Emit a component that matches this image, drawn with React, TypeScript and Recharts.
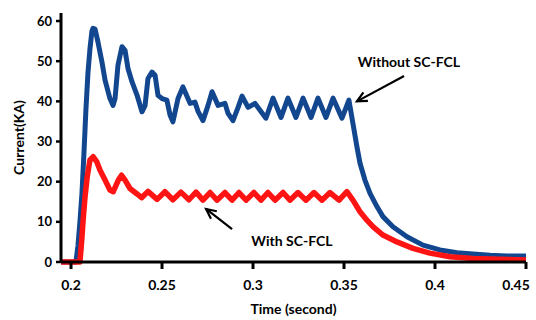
import { LineChart, Line, XAxis, YAxis, ReferenceLine, ReferenceDot } from 'recharts';

// time (s) / current (kA)
const withoutFclTime = [
    0.1945, 0.2027, 0.2038, 0.2049, 0.206, 0.2071, 0.2082, 0.2093, 0.2104, 0.2115,
    0.2121, 0.2132, 0.2148, 0.217, 0.2187, 0.2214, 0.2231, 0.2242, 0.2258, 0.228,
    0.2297, 0.2313, 0.2335, 0.2363, 0.239, 0.2407, 0.2423, 0.2445, 0.2462, 0.2478,
    0.25, 0.2527, 0.2544, 0.256, 0.2588, 0.2615, 0.2654, 0.2681, 0.2698, 0.2725,
    0.2753, 0.2775, 0.2808, 0.2846, 0.2863, 0.289, 0.2918, 0.294, 0.2973, 0.3011,
    0.3071, 0.311, 0.3154, 0.3192, 0.3236, 0.3275, 0.3319, 0.3357, 0.3401, 0.344,
    0.3489, 0.3527, 0.3549, 0.3571, 0.3588, 0.3615, 0.3643, 0.3681, 0.3714, 0.3769,
    0.3846, 0.3934, 0.4027, 0.4121, 0.4209, 0.4302, 0.4394, 0.45,
];
const withoutFclCurrent = [
    0, 0, 4, 10, 17, 27, 38, 47, 53, 57.5,
    58.2, 58, 54.8, 49.8, 45.3, 40.7, 39, 40.7, 49, 53.6,
    52.7, 48.2, 44.9, 41.5, 37.4, 39, 45.7, 47.3, 46.5, 41.5,
    40.7, 40.3, 36.6, 34.9, 40.7, 43.6, 39.5, 39.8, 37.5, 35.2,
    39, 42.4, 39, 39.5, 37, 35.2, 38.5, 41.3, 38.5, 39.5,
    35.8, 40.8, 36, 40.8, 36, 40.8, 36, 40.8, 36, 40.8,
    35.8, 40.3, 34.5, 28.7, 24.6, 20.4, 17.1, 13.8, 11.3, 8.8,
    6.3, 4.2, 3, 2.3, 2, 1.7, 1.5, 1.5,
];

const withFclTime = [
    0.1945, 0.2049, 0.2059, 0.2068, 0.2077, 0.2089, 0.2104, 0.2122, 0.2141, 0.2159,
    0.2187, 0.2214, 0.2232, 0.226, 0.2278, 0.2297, 0.2324, 0.2361, 0.2388, 0.2423,
    0.2473, 0.2516, 0.256, 0.2604, 0.2648, 0.2687, 0.2725, 0.2764, 0.2802, 0.2846,
    0.2885, 0.2923, 0.2962, 0.3005, 0.3044, 0.3082, 0.3121, 0.3165, 0.3203, 0.3247,
    0.3291, 0.3335, 0.3379, 0.3423, 0.3473, 0.3516, 0.3549, 0.3588, 0.3626, 0.3659,
    0.3714, 0.3791, 0.3879, 0.3972, 0.4082, 0.4209, 0.4357, 0.45,
];
const withFclCurrent = [
    0, 0, 5.5, 11.3, 16.2, 21.2, 25.4, 26.2, 25, 22.9,
    20.4, 17.9, 17.5, 20.4, 21.6, 20.4, 18.3, 17, 16, 17.6,
    15.6, 17.5, 15.5, 17.4, 15.5, 17.4, 15.4, 17.3, 15.4, 17.3,
    15.4, 17.3, 15.4, 17.3, 15.4, 17.3, 15.4, 17.3, 15.4, 17.3,
    15.4, 17.3, 15.4, 17.3, 15.4, 17.5, 15.4, 12.5, 10.4, 8.8,
    6.7, 5, 3.4, 2.2, 1.3, 0.9, 0.7, 0.5,
];

const xTicks = [0.2, 0.25, 0.3, 0.35, 0.4, 0.45];
const yTicks = [0, 10, 20, 30, 40, 50, 60];

const withoutFcl = withoutFclTime.map((t, i) => ({ t, i: withoutFclCurrent[i] }));
const withFcl = withFclTime.map((t, i) => ({ t, i: withFclCurrent[i] }));

const FONT = 'Lato, "Open Sans", sans-serif';
const tickStyle = { fill: '#000', fontSize: 14, fontWeight: 700, fontFamily: FONT };

// keeps the last x label inside the picture, like the original
// eslint-disable-next-line @typescript-eslint/no-explicit-any
const XTick = ({ x, y, payload }: any) => {
    const label = String(payload.value);
    const shift = payload.value === 0.45 ? -6 : 0;
    return (
        <text x={x + shift} y={y} dy="0.71em" textAnchor="middle" style={tickStyle}>
            {label}
        </text>
    );
};

// eslint-disable-next-line @typescript-eslint/no-explicit-any
const Arrow = (props: any) => {
    const { x1, y1, x2, y2 } = props;
    const ang = Math.atan2(y2 - y1, x2 - x1);
    const len = 11;
    const spread = 0.45;
    const ax = x2 - len * Math.cos(ang - spread);
    const ay = y2 - len * Math.sin(ang - spread);
    const bx = x2 - len * Math.cos(ang + spread);
    const by = y2 - len * Math.sin(ang + spread);
    return (
        <g>
            <line x1={x1} y1={y1} x2={x2} y2={y2} stroke="#000" strokeWidth={2.2} />
            <polyline points={`${ax},${ay} ${x2},${y2} ${bx},${by}`} fill="none" stroke="#000" strokeWidth={2.2} />
        </g>
    );
};

export default function App() {
    return (
        <div style={{ position: 'absolute', left: 0, top: 0, width: 536, height: 320, background: '#fff' }}>
            <LineChart width={536} height={320} margin={{ top: 13, right: 10, bottom: 0, left: 0 }}>
                <XAxis
                    type="number"
                    dataKey="t"
                    domain={[0.1945, 0.45]}
                    ticks={xTicks}
                    allowDataOverflow
                    height={58}
                    tickSize={7}
                    tickMargin={11}
                    tick={<XTick />}
                    axisLine={{ stroke: '#000', strokeWidth: 3 }}
                    tickLine={{ stroke: '#000', strokeWidth: 3 }}
                    label={{
                        value: 'Time (second)',
                        position: 'insideBottom',
                        offset: 6,
                        style: { fill: '#000', fontSize: 14, fontWeight: 700, fontFamily: FONT },
                    }}
                />
                <YAxis
                    type="number"
                    domain={[0, 62]}
                    ticks={yTicks}
                    width={61}
                    tickSize={5}
                    tickMargin={4}
                    tick={{ ...tickStyle, fontSize: 13 }}
                    axisLine={{ stroke: '#000', strokeWidth: 3 }}
                    tickLine={{ stroke: '#000', strokeWidth: 2.5 }}
                    label={{
                        value: 'Current(KA)',
                        angle: -90,
                        position: 'insideLeft',
                        offset: 19,
                        style: { fill: '#000', fontSize: 14, fontWeight: 700, fontFamily: FONT, textAnchor: 'middle' },
                    }}
                />
                <Line
                    data={withoutFcl}
                    dataKey="i"
                    type="linear"
                    stroke="#12478F"
                    strokeWidth={5}
                    strokeLinejoin="round"
                    dot={false}
                    isAnimationActive={false}
                />
                <Line
                    data={withFcl}
                    dataKey="i"
                    type="linear"
                    stroke="#FF1414"
                    strokeWidth={5.5}
                    strokeLinejoin="round"
                    dot={false}
                    isAnimationActive={false}
                />

                {/* annotations */}
                <ReferenceLine segment={[{ x: 0.383, y: 46.3 }, { x: 0.3571, y: 40 }]} shape={Arrow} />
                <ReferenceLine segment={[{ x: 0.2885, y: 8.2 }, { x: 0.2742, y: 13.2 }]} shape={Arrow} />
                <ReferenceDot
                    x={0.3857}
                    y={49.8}
                    r={0}
                    fill="none"
                    stroke="none"
                    label={{ value: 'Without SC-FCL', position: 'center', style: { fill: '#000', fontSize: 14, fontWeight: 700, fontFamily: FONT } }}
                />
                <ReferenceDot
                    x={0.3214}
                    y={5.2}
                    r={0}
                    fill="none"
                    stroke="none"
                    label={{ value: 'With SC-FCL', position: 'center', style: { fill: '#000', fontSize: 14, fontWeight: 700, fontFamily: FONT } }}
                />
            </LineChart>
        </div>
    );
}
